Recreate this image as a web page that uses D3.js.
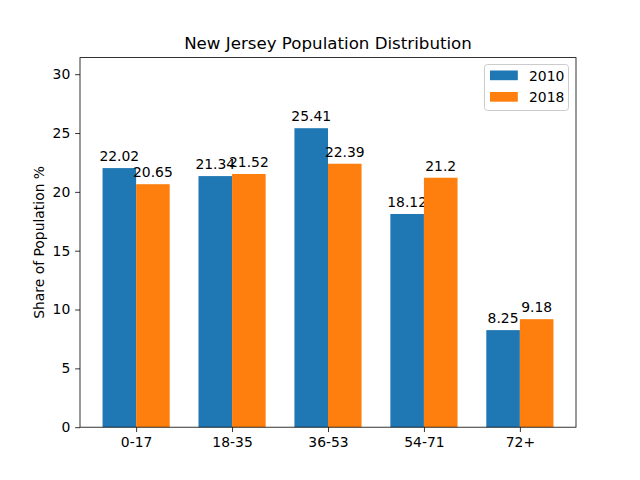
<!DOCTYPE html>
<html><head><meta charset="utf-8">
<script src="https://cdn.jsdelivr.net/npm/d3@7"></script>
<style>body{margin:0;background:#fff}text{font-family:"DejaVu Sans",sans-serif;fill:#000}</style>
</head><body>
<svg id="c" width="640" height="480"></svg>
<script>
const categories = ["0-17","18-35","36-53","54-71","72+"];
const seriesNames = ["2010","2018"];
const values2010 = [22.02,21.34,25.41,18.12,8.25];
const values2018 = [20.65,21.52,22.39,21.2,9.18];
const yTicks = [0,5,10,15,20,25,30];
const colors = ["#1f77b4","#ff7f0e"];
const svg = d3.select("#c");
svg.append("rect").attr("width",640).attr("height",480).attr("fill","#fff");
const L=80,R=576,T=57.6,B=427.2;
const bw=0.35;
const x=d3.scaleLinear().domain([-0.585,4.585]).range([L,R]);
const ymax=d3.max(values2010.concat(values2018))+6;
const y=d3.scaleLinear().domain([0,ymax]).range([B,T]);
const series=[values2010,values2018];
series.forEach((vals,si)=>{
  const off = si===0?-bw/2:bw/2;
  const g=svg.append("g");
  g.selectAll("rect").data(vals).enter().append("rect")
    .attr("x",(d,i)=>x(i+off-bw/2)).attr("width",(d,i)=>x(i+off+bw/2)-x(i+off-bw/2))
    .attr("y",d=>y(d)).attr("height",d=>B-y(d)).attr("fill",colors[si]);
  g.selectAll("text").data(vals).enter().append("text")
    .attr("x",(d,i)=>x(i+off)).attr("y",d=>y(d)-4.17-3).attr("text-anchor","middle")
    .attr("font-size","13.9px").text(d=>String(d));
});
// axes
const xa=d3.axisBottom(x).tickValues(d3.range(categories.length)).tickFormat(i=>categories[i]).tickSize(4.86).tickPadding(4.86);
const gx=svg.append("g").attr("transform",`translate(0,${B})`).call(xa);
const ya=d3.axisLeft(y).tickValues(yTicks).tickSize(4.86).tickPadding(4.86);
const gy=svg.append("g").attr("transform",`translate(${L},0)`).call(ya);
[gx,gy].forEach(g=>{g.select(".domain").remove();g.selectAll("text").attr("font-size","13.9px").attr("font-family","DejaVu Sans").attr("fill","#000");g.selectAll("line").attr("stroke","#000").attr("stroke-width",0.8);});
svg.append("rect").attr("x",L).attr("y",T).attr("width",R-L).attr("height",B-T).attr("fill","none").attr("stroke","#000").attr("stroke-width",0.8);
svg.append("text").attr("x",(L+R)/2).attr("y",49).attr("text-anchor","middle").attr("font-size","16.67px").text("New Jersey Population Distribution");
svg.append("text").attr("transform",`translate(44,${(T+B)/2}) rotate(-90)`).attr("text-anchor","middle").attr("font-size","13.9px").text("Share of Population %");
// legend
const lg=svg.append("g");
lg.append("rect").attr("x",484.5).attr("y",64.5).attr("width",84).attr("height",46).attr("rx",3).attr("fill","#fff").attr("fill-opacity",0.8).attr("stroke","#ccc").attr("stroke-width",1);
seriesNames.forEach((n,i)=>{
  const cy=75.5+i*21.5;
  lg.append("rect").attr("x",490).attr("y",cy-5).attr("width",27.8).attr("height",9.7).attr("fill",colors[i]);
  lg.append("text").attr("x",529).attr("y",cy+5).attr("font-size","13.9px").text(n);
});
</script>
</body></html>
